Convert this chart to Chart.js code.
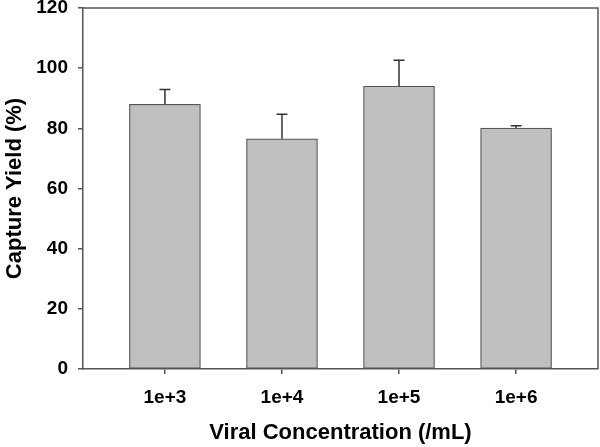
<!DOCTYPE html>
<html>
<head>
<meta charset="utf-8">
<script src="https://cdn.jsdelivr.net/npm/chart.js@4/dist/chart.umd.min.js"></script>
<style>
  html, body { margin: 0; padding: 0; background: #fff; }
  #wrap { width: 600px; height: 447px; }
</style>
</head>
<body>
<div id="wrap"><canvas id="yieldChart"></canvas></div>
<script>
// --- data ---
const concLabels = ['1e+3', '1e+4', '1e+5', '1e+6'];
const xPositions = [1, 2, 3, 4];
const captureYield = [88.0, 76.5, 94.0, 80.1];
const yieldError = [4.9, 8.2, 8.6, 0.8];
const yTicks = [0, 20, 40, 60, 80, 100, 120];

const AXIS_COLOR = '#555555';
const FONT = 'Liberation Sans, Arial, Helvetica, sans-serif';

// top/right frame + upward-only error bars
const errorBarPlugin = {
  id: 'errorBars',
  afterDatasetsDraw(chart) {
    const { ctx, chartArea, scales } = chart;
    ctx.save();
    ctx.strokeStyle = AXIS_COLOR;
    ctx.lineWidth = 1.5;
    ctx.beginPath();
    ctx.moveTo(chartArea.left, chartArea.top);
    ctx.lineTo(chartArea.right, chartArea.top);
    ctx.lineTo(chartArea.right, chartArea.bottom);
    ctx.stroke();

    ctx.strokeStyle = '#333333';
    ctx.lineWidth = 1.5;
    xPositions.forEach((xv, i) => {
      const x = scales.x.getPixelForValue(xv);
      const yTop = scales.y.getPixelForValue(captureYield[i]);
      const yErr = scales.y.getPixelForValue(captureYield[i] + yieldError[i]);
      ctx.beginPath();
      ctx.moveTo(x, yTop);
      ctx.lineTo(x, yErr);
      ctx.moveTo(x - 5.5, yErr);
      ctx.lineTo(x + 5.5, yErr);
      ctx.stroke();
    });
    ctx.restore();
  }
};

new Chart(document.getElementById('yieldChart'), {
  type: 'bar',
  data: {
    datasets: [{
      data: xPositions.map((x, i) => ({ x: x, y: captureYield[i] })),
      backgroundColor: '#c0c0c0',
      borderColor: '#555555',
      borderWidth: 1.2,
      borderSkipped: false,
      barThickness: 71
    }]
  },
  options: {
    responsive: true,
    maintainAspectRatio: false,
    animation: false,
    layout: { padding: { top: 8, right: 2, left: 0, bottom: 0 } },
    plugins: { legend: { display: false }, tooltip: { enabled: false } },
    scales: {
      x: {
        type: 'linear',
        min: 0.3,
        max: 4.7,
        offset: false,
        afterBuildTicks: (scale) => { scale.ticks = xPositions.map(v => ({ value: v })); },
        afterFit: (scale) => { scale.height = 78; scale.paddingLeft = 0; scale.paddingRight = 0; },
        grid: { offset: false, drawOnChartArea: false, drawTicks: true, tickLength: 5, color: AXIS_COLOR, lineWidth: 1.5 },
        border: { color: AXIS_COLOR, width: 1.5 },
        ticks: {
          padding: 12,
          color: '#000',
          font: { family: FONT, size: 19, weight: 'bold' },
          callback: (v) => concLabels[xPositions.indexOf(v)]
        },
        title: {
          display: true,
          text: 'Viral Concentration (/mL)',
          color: '#000',
          font: { family: FONT, size: 22, weight: 'bold' },
          padding: { top: 0, bottom: 1 }
        }
      },
      y: {
        min: 0,
        max: 120,
        afterBuildTicks: (scale) => { scale.ticks = yTicks.map(v => ({ value: v })); },
        afterFit: (scale) => { scale.width = 83; scale.paddingTop = 0; scale.paddingBottom = 0; },
        grid: { drawOnChartArea: false, drawTicks: true, tickLength: 5, color: AXIS_COLOR, lineWidth: 1.5 },
        border: { color: AXIS_COLOR, width: 1.5 },
        ticks: {
          padding: 10,
          color: '#000',
          font: { family: FONT, size: 19, weight: 'bold' }
        },
        title: {
          display: true,
          text: 'Capture Yield (%)',
          color: '#000',
          font: { family: FONT, size: 22, weight: 'bold' },
          padding: { top: 2, bottom: 0 }
        }
      }
    }
  },
  plugins: [errorBarPlugin]
});
</script>
</body>
</html>
